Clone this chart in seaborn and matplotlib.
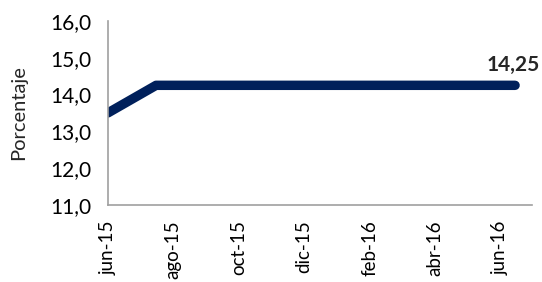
import pandas as pd
import matplotlib.pyplot as plt
import seaborn as sns

# tasa de referencia (fechas y valores)
fechas = ['2015-06-01', '2015-07-16', '2016-06-15']
tasa = [13.5, 14.25, 14.25]
etiquetas = ['jun-15', 'ago-15', 'oct-15', 'dic-15', 'feb-16', 'abr-16', 'jun-16']
ticks_x = ['2015-06-01', '2015-08-01', '2015-10-01', '2015-12-01',
           '2016-02-01', '2016-04-01', '2016-06-01']
ticks_y = [11, 12, 13, 14, 15, 16]

df = pd.DataFrame({'fecha': pd.to_datetime(fechas), 'tasa': tasa})

sns.set_style('white')
plt.rcParams['font.family'] = ['Lato', 'DejaVu Sans']

fig = plt.figure(figsize=(5.42, 2.82), dpi=100)
ax = fig.add_axes([0.199, 0.273, 0.783, 0.653])

sns.lineplot(data=df, x='fecha', y='tasa', ax=ax, color='#00205B',
             linewidth=6.8, solid_capstyle='round')

ax.set_xlim(pd.Timestamp('2015-06-01'), pd.Timestamp('2016-07-01'))
ax.set_ylim(11, 16)
ax.set_yticks(ticks_y)
ax.set_yticklabels([f'{v:.1f}'.replace('.', ',') for v in ticks_y], fontsize=15)
ax.set_xticks(pd.to_datetime(ticks_x))
ax.set_xticklabels(etiquetas, rotation=90, fontsize=13.5)
ax.set_xlabel('')
ax.set_ylabel('Porcentaje', fontsize=14.5)
ax.yaxis.set_label_coords(-0.19, 0.5)

for s in ['top', 'right']:
    ax.spines[s].set_visible(False)
for s in ['left', 'bottom']:
    ax.spines[s].set_color('#A0A0A0')
    ax.spines[s].set_linewidth(1.2)
ax.tick_params(axis='both', direction='out', length=7, width=1.2,
               color='#A0A0A0', labelcolor='#000000')
ax.tick_params(axis='x', pad=4)
ax.tick_params(axis='y', pad=5)

ult = df.iloc[-1]
ax.annotate(f'{ult.tasa:.2f}'.replace('.', ','), xy=(ult.fecha, ult.tasa),
            xytext=(18, 15), textcoords='offset points', ha='right', va='center',
            fontsize=15, fontweight='bold', annotation_clip=False)

fig.savefig('out.png', dpi=100)
